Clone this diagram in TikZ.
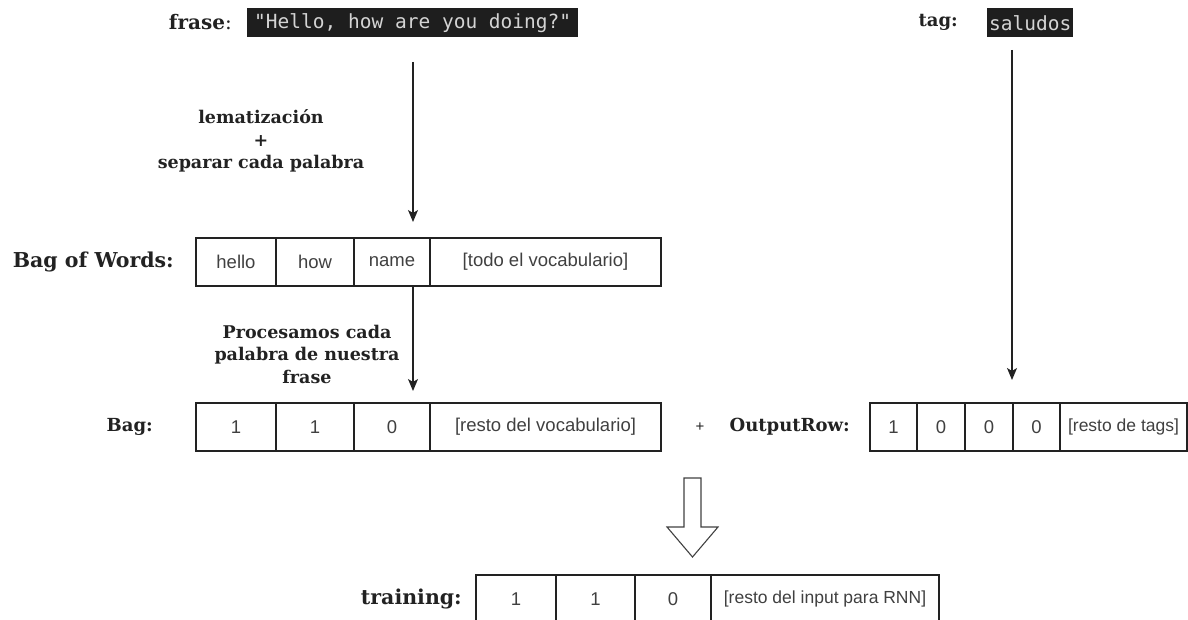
\documentclass[tikz,border=0pt]{standalone}
\usepackage{fontspec}
\setmainfont{DejaVu Serif}
\setsansfont{Liberation Sans}
\setmonofont{DejaVu Sans Mono}
\usetikzlibrary{arrows.meta}
\definecolor{codebg}{HTML}{1E1E1E}
\definecolor{codefg}{HTML}{D4D4D4}
\definecolor{ink}{HTML}{222222}
\begin{document}
\begin{tikzpicture}[x=1pt,y=-1pt,
  lbl/.style={font=\fontsize{18}{20}\selectfont\bfseries, text=ink, inner sep=0pt, anchor=east},
  biglbl/.style={lbl, font=\fontsize{20.5}{22}\selectfont\bfseries},
  note/.style={font=\fontsize{17.5}{22.5}\selectfont\bfseries, align=center, text=ink},
  cell/.style={draw=ink, line width=1.2pt, minimum height=48pt, anchor=north west,
    inner sep=0pt, outer sep=0pt, font=\sffamily\fontsize{18.5}{20}\selectfont, text=black!75},
  widecell/.style={cell, font=\sffamily\fontsize{17.5}{20}\selectfont},
  code/.style={fill=codebg, text=codefg, font=\ttfamily\fontsize{19.5}{22}\selectfont,
    inner sep=0pt, anchor=north west, minimum height=29pt},
  arr/.style={-{Stealth[length=12pt,width=10pt,inset=3pt]}, line width=1.2pt, draw=ink}
]
\useasboundingbox (0,0) rectangle (1188,620);

% ---- inputs: sentence and tag ----
\node[biglbl, font=\fontsize{20}{22}\selectfont\bfseries] (fraseLbl) at (232,22) {frase\mdseries:};
\node[code, minimum width=331pt] (frase) at (247,8) {"Hello, how are you doing?"};
\node[lbl] (tagLbl) at (958,22) {tag:};
\node[code, minimum width=86pt] (tag) at (987,8) {saludos};

% ---- bag of words (vocabulary) ----
\node[biglbl] (bowLbl) at (174,262) {Bag of Words:};
\node[cell, minimum width=80pt]  (bw1) at (196,238) {hello};
\node[cell, minimum width=78pt]  (bw2) at (276,238) {how};
\node[cell, minimum width=76pt]  (bw3) at (354,238) {name};
\node[cell, minimum width=231pt] (bw4) at (430,238) {[todo el vocabulario]};

% ---- bag for the sentence ----
\node[lbl] (bagLbl) at (153,427) {Bag:};
\node[cell, minimum width=80pt]  (bg1) at (196,403) {1};
\node[cell, minimum width=78pt]  (bg2) at (276,403) {1};
\node[cell, minimum width=76pt]  (bg3) at (354,403) {0};
\node[cell, minimum width=231pt] (bg4) at (430,403) {[resto del vocabulario]};

\node[font=\sffamily\fontsize{15}{16}\selectfont, text=ink] (plus) at (700,427) {+};

% ---- output row for the tag ----
\node[lbl] (outLbl) at (850,427) {OutputRow:};
\node[cell, minimum width=47pt]  (or1) at (870,403) {1};
\node[cell, minimum width=48pt]  (or2) at (917,403) {0};
\node[cell, minimum width=48pt]  (or3) at (965,403) {0};
\node[cell, minimum width=47pt]  (or4) at (1013,403) {0};
\node[widecell, minimum width=127pt] (or5) at (1060,403) {[resto de tags]};

% ---- training row ----
\node[biglbl] (trainLbl) at (462,599) {training:};
\node[cell, minimum width=80pt]  (tr1) at (476,575) {1};
\node[cell, minimum width=79pt]  (tr2) at (556,575) {1};
\node[cell, minimum width=76pt]  (tr3) at (635,575) {0};
\node[widecell, minimum width=228pt] (tr4) at (711,575) {[resto del input para RNN]};

% ---- step notes ----
\node[note] (stepA) at (261,141) {lematización\\+\\separar cada palabra};
\node[note] (stepB) at (307,354) {Procesamos cada\\palabra de nuestra\\frase};

% ---- connectors ----
\coordinate (aTop) at (413,62);
\coordinate (aEnd) at (413,222);
\coordinate (bTop) at (413,286);
\coordinate (bEnd) at (413,391);
\coordinate (cTop) at (1012,50);
\coordinate (cEnd) at (1012,380);
\draw[arr] (aTop) -- (aEnd);
\draw[arr] (bTop) -- (bEnd);
\draw[arr] (cTop) -- (cEnd);

% ---- hollow block arrow towards training ----
\draw[line width=1.1pt, draw=black!75, line join=miter]
  (684,478) -- (701,478) -- (701,527) -- (718,527) -- (692.5,557)
  -- (667,527) -- (684,527) -- cycle;
\end{tikzpicture}
\end{document}
